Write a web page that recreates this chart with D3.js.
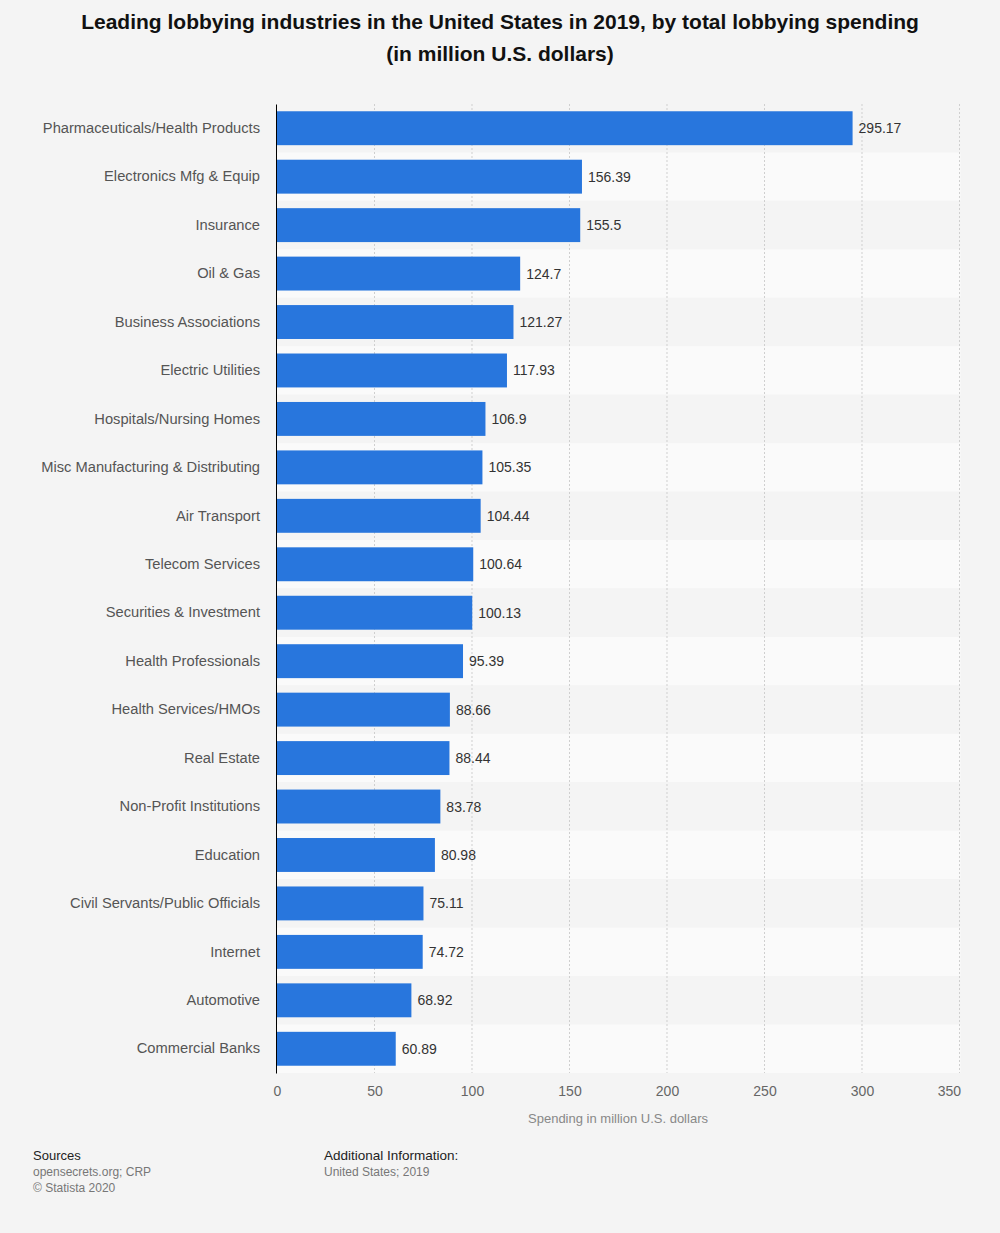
<!DOCTYPE html>
<html lang="en">
<head>
<meta charset="UTF-8">
<title>Leading lobbying industries in the United States in 2019</title>
<script src="https://d3js.org/d3.v7.min.js"></script>
<style>
  body { margin: 0; background: #f4f4f4; font-family: "Liberation Sans", Arial, sans-serif; }
</style>
</head>
<body>
<div id="chart"></div>
<script>
// data
const industries = [
  "Pharmaceuticals/Health Products", "Electronics Mfg & Equip", "Insurance", "Oil & Gas",
  "Business Associations", "Electric Utilities", "Hospitals/Nursing Homes",
  "Misc Manufacturing & Distributing", "Air Transport", "Telecom Services",
  "Securities & Investment", "Health Professionals", "Health Services/HMOs", "Real Estate",
  "Non-Profit Institutions", "Education", "Civil Servants/Public Officials", "Internet",
  "Automotive", "Commercial Banks"
];
const spending = [
  295.17, 156.39, 155.5, 124.7, 121.27, 117.93, 106.9, 105.35, 104.44, 100.64,
  100.13, 95.39, 88.66, 88.44, 83.78, 80.98, 75.11, 74.72, 68.92, 60.89
];
const xTicks = [0, 50, 100, 150, 200, 250, 300, 350];

const W = 1000, H = 1233;
const plotLeft = 277, plotRight = 959.5, plotTop = 104, plotBottom = 1073;
const FONT = "'Liberation Sans', Arial, sans-serif";

const svg = d3.select("#chart").append("svg")
  .attr("width", W).attr("height", H)
  .style("font-family", FONT);

svg.append("rect").attr("width", W).attr("height", H).attr("fill", "#f4f4f4");

// title
svg.append("text").attr("x", 500).attr("y", 29).attr("text-anchor", "middle")
  .attr("font-size", 21).attr("font-weight", "bold").attr("fill", "#111")
  .text("Leading lobbying industries in the United States in 2019, by total lobbying spending");
svg.append("text").attr("x", 500).attr("y", 61).attr("text-anchor", "middle")
  .attr("font-size", 21).attr("font-weight", "bold").attr("fill", "#111")
  .text("(in million U.S. dollars)");

const x = d3.scaleLinear().domain([0, 350]).range([plotLeft, plotRight]);
const y = d3.scaleBand().domain(industries).range([plotTop, plotBottom]).paddingInner(0.3).paddingOuter(0.15);
const rows = d3.scaleBand().domain(industries).range([plotTop, plotBottom]);

// alternating row bands
svg.selectAll(".row").data(industries).enter().append("rect")
  .attr("x", plotLeft).attr("width", plotRight - plotLeft + 1)
  .attr("y", d => rows(d)).attr("height", rows.bandwidth())
  .attr("fill", (d, i) => i % 2 ? "#fafafa" : "#f4f4f4");

// grid
svg.selectAll(".grid").data(xTicks.slice(1)).enter().append("line")
  .attr("x1", d => x(d)).attr("x2", d => x(d))
  .attr("y1", plotTop).attr("y2", plotBottom)
  .attr("stroke", "#cfcfcf").attr("stroke-dasharray", "2,2");

// bars
svg.selectAll(".bar").data(industries).enter().append("rect")
  .attr("x", x(0)).attr("y", d => y(d))
  .attr("width", (d, i) => x(spending[i]) - x(0))
  .attr("height", y.bandwidth())
  .attr("fill", "#2876dd");

// value labels
svg.selectAll(".val").data(industries).enter().append("text")
  .attr("x", (d, i) => x(spending[i]) + 6)
  .attr("y", d => y(d) + y.bandwidth() / 2 + 5)
  .attr("font-size", 14).attr("fill", "#333")
  .text((d, i) => spending[i]);

// category axis
const yAxis = svg.append("g").attr("transform", `translate(${plotLeft - 1},0)`)
  .call(d3.axisLeft(rows).tickSize(0).tickPadding(16));
yAxis.select(".domain").attr("stroke", "#000");
yAxis.selectAll("text").attr("font-size", 14.7).attr("fill", "#555")
  .attr("font-family", FONT);

// value axis
const xAxis = svg.append("g").attr("transform", `translate(0,${plotBottom})`)
  .call(d3.axisBottom(x).tickValues(xTicks).tickSize(0).tickPadding(13));
xAxis.select(".domain").remove();
xAxis.selectAll("text").attr("font-size", 14).attr("fill", "#666")
  .attr("font-family", FONT)
  .attr("text-anchor", d => d === 350 ? "end" : "middle")
  .attr("dx", d => d === 350 ? 1 : 0);

svg.append("text").attr("x", 618).attr("y", 1123).attr("text-anchor", "middle")
  .attr("font-size", 13).attr("fill", "#888").text("Spending in million U.S. dollars");

// footer
const foot = [
  { x: 33, y: 1160, t: "Sources", c: "#222", s: 13 },
  { x: 33, y: 1176, t: "opensecrets.org; CRP", c: "#777", s: 12 },
  { x: 33, y: 1192, t: "© Statista 2020", c: "#777", s: 12 },
  { x: 324, y: 1160, t: "Additional Information:", c: "#222", s: 13.5 },
  { x: 324, y: 1176, t: "United States; 2019", c: "#777", s: 12 }
];
svg.selectAll(".foot").data(foot).enter().append("text")
  .attr("x", d => d.x).attr("y", d => d.y).attr("font-size", d => d.s)
  .attr("fill", d => d.c).text(d => d.t);
</script>
</body>
</html>
